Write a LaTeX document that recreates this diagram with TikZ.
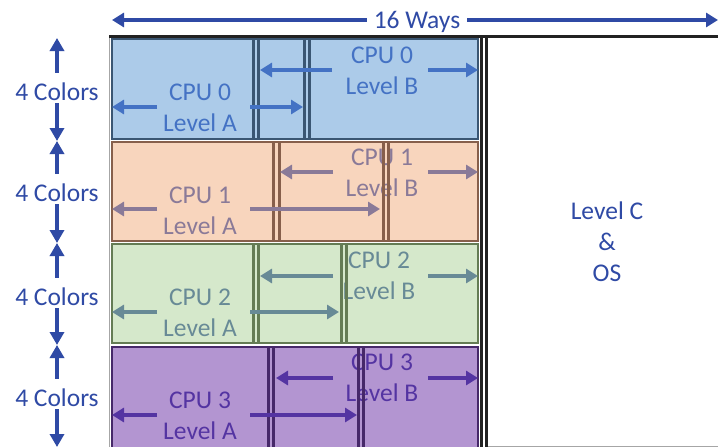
\documentclass[tikz,border=0pt]{standalone}
\usepackage{fontspec}
\setmainfont{Carlito}
\usetikzlibrary{arrows.meta}
\definecolor{fillA}{RGB}{172,203,233}
\definecolor{lineA}{RGB}{58,86,115}
\definecolor{textA}{RGB}{68,114,196}
\definecolor{fillB}{RGB}{248,213,189}
\definecolor{lineB}{RGB}{135,95,75}
\definecolor{textB}{RGB}{138,122,152}
\definecolor{fillC}{RGB}{213,232,203}
\definecolor{lineC}{RGB}{100,124,84}
\definecolor{textC}{RGB}{104,138,150}
\definecolor{fillD}{RGB}{179,149,209}
\definecolor{lineD}{RGB}{70,40,105}
\definecolor{textD}{RGB}{84,52,162}
\definecolor{navy}{RGB}{47,74,165}
\definecolor{edge}{RGB}{34,34,34}
\tikzset{
  lbl/.style={font=\fontsize{25.5}{31}\selectfont, align=center, inner sep=0pt},
  side/.style={lbl, anchor=base, text=navy, text height=27pt, text depth=3pt},
  harr/.style={line width=4pt, -{Triangle[length=12pt,width=14pt]}},
  varr/.style={navy, line width=4pt, -{Triangle[length=13pt,width=14pt]}},
  rowbox/.style={line width=2.8pt},
  sepline/.style={line width=3pt},
}
\begin{document}
\begin{tikzpicture}[x=1pt,y=-1pt]
\useasboundingbox (0,0) rectangle (718,447);
\fill[white] (0,0) rectangle (718,447);

% ---- Row 0 (CPU 0)
\draw[rowbox, fill=fillA, draw=lineA] (112,39) rectangle (478,139);
\node[lbl, text=textA] (a0) at (200,107.5) {CPU 0\\Level A};
\node[lbl, text=textA] (b0) at (382,70.5) {CPU 0\\Level B};
\draw[sepline, lineA] (253,39) -- (253,139) (258.5,39) -- (258.5,139)
                      (304,39) -- (304,139) (309.5,39) -- (309.5,139);
\draw[harr, textA] (157,107) -- (112,107);
\draw[harr, textA] (250,107) -- (303,107);
\draw[harr, textA] (332,70) -- (260,70);
\draw[harr, textA] (428,70) -- (478,70);

% ---- Row 1 (CPU 1)
\draw[rowbox, fill=fillB, draw=lineB] (112,142) rectangle (478,241);
\node[lbl, text=textB] (a1) at (200,210.5) {CPU 1\\Level A};
\node[lbl, text=textB] (b1) at (382,172.5) {CPU 1\\Level B};
\draw[sepline, lineB] (273,142) -- (273,241) (279,142) -- (279,241)
                      (383,142) -- (383,241) (388.5,142) -- (388.5,241);
\draw[harr, textB] (157,209) -- (112,209);
\draw[harr, textB] (250,209) -- (380,209);
\draw[harr, textB] (333,172) -- (280,172);
\draw[harr, textB] (428,172) -- (478,172);

% ---- Row 2 (CPU 2)
\draw[rowbox, fill=fillC, draw=lineC] (112,244) rectangle (478,343);
\node[lbl, text=textC] (a2) at (200,313) {CPU 2\\Level A};
\node[lbl, text=textC] (b2) at (379,276) {CPU 2\\Level B};
\draw[sepline, lineC] (253,244) -- (253,343) (258.5,244) -- (258.5,343)
                      (341,244) -- (341,343) (346.5,244) -- (346.5,343);
\draw[harr, textC] (157,312) -- (112,312);
\draw[harr, textC] (250,312) -- (339,312);
\draw[harr, textC] (333,276) -- (260,276);
\draw[harr, textC] (428,276) -- (478,276);

% ---- Row 3 (CPU 3)
\draw[rowbox, fill=fillD, draw=lineD] (112,347) rectangle (478,448);
\node[lbl, text=textD] (a3) at (200,416) {CPU 3\\Level A};
\node[lbl, text=textD] (b3) at (382,378) {CPU 3\\Level B};
\draw[sepline, lineD] (268,347) -- (268,447) (273.5,347) -- (273.5,447)
                      (358,347) -- (358,447) (363.5,347) -- (363.5,447);
\draw[harr, textD] (157,415) -- (112,415);
\draw[harr, textD] (250,415) -- (357,415);
\draw[harr, textD] (333,378) -- (276,378);
\draw[harr, textD] (428,378) -- (478,378);

% ---- frame and Level C region
\draw[gray!70, line width=0.8pt] (109.5,36) -- (109.5,447);
\draw[gray!70, line width=0.8pt] (486,446) -- (718,446);
\draw[edge, line width=3pt] (109,36.5) -- (718,36.5);
\draw[edge, line width=3pt] (481,36) -- (481,447);
\draw[edge, line width=3pt] (486.5,36) -- (486.5,447);
\node[lbl, text=navy] (lc) at (607,242) {Level C\\\&\\OS};

% ---- top: 16 Ways
\node[lbl, text=navy, anchor=base, inner xsep=7pt] (ways) at (417,28) {16 Ways};
\coordinate (wl) at (112,20);
\coordinate (wr) at (718,20);
\draw[harr, navy] (ways.west |- wl) -- (wl);
\draw[harr, navy] (ways.east |- wr) -- (wr);

% ---- left: 4 Colors
\coordinate (t0) at (57,38);
\coordinate (t1) at (57,141);
\coordinate (t2) at (57,243);
\coordinate (t3) at (57,345);
\coordinate (t4) at (57,447);
\node[side] (c0) at (57,100) {4 Colors};
\node[side] (c1) at (57,201) {4 Colors};
\node[side] (c2) at (57,305) {4 Colors};
\node[side] (c3) at (57,406) {4 Colors};
\draw[varr] (c0.north) -- (t0);
\draw[varr] (c0.south) -- (t1);
\draw[varr] (c1.north) -- (t1);
\draw[varr] (c1.south) -- (t2);
\draw[varr] (c2.north) -- (t2);
\draw[varr] (c2.south) -- (t3);
\draw[varr] (c3.north) -- (t3);
\draw[varr] (c3.south) -- (t4);
\end{tikzpicture}
\end{document}
